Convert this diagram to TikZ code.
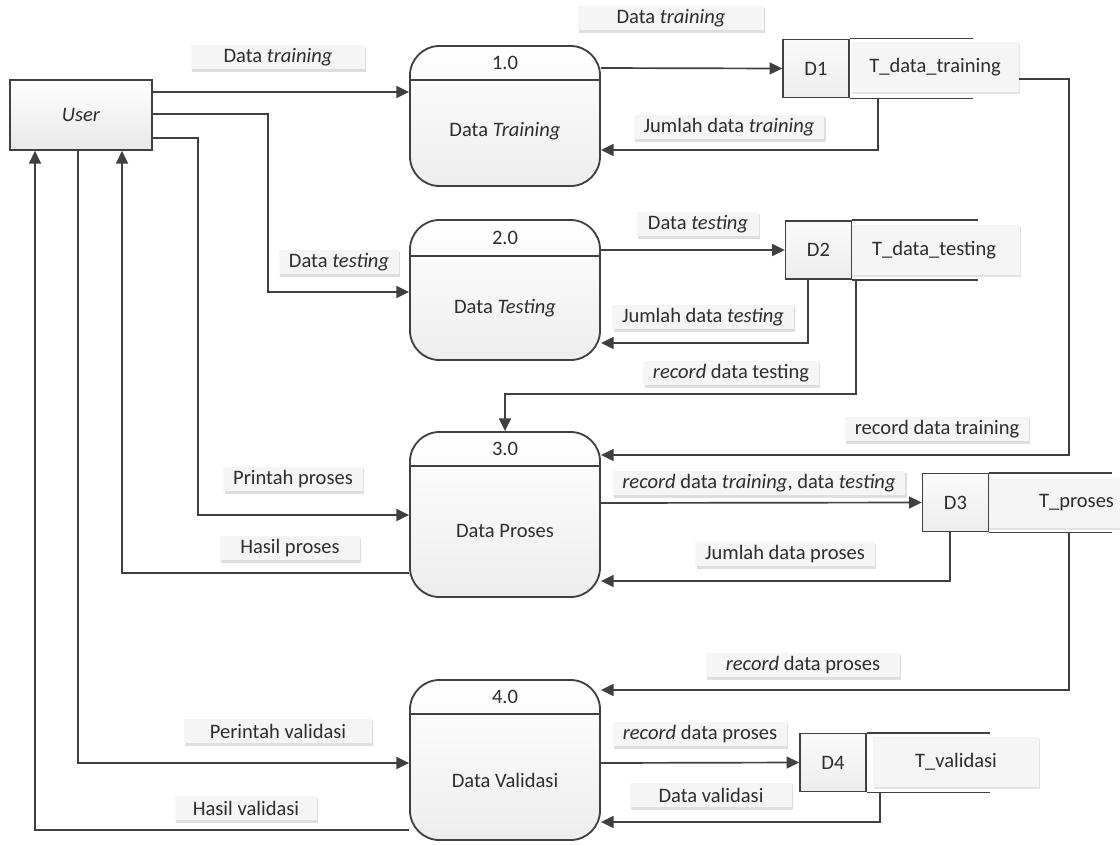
\documentclass[tikz,border=0pt]{standalone}
\usepackage{fontspec}
\setmainfont{Carlito}
\usetikzlibrary{arrows.meta,shadows}

\definecolor{linegray}{RGB}{64,64,64}
\definecolor{textgray}{RGB}{45,45,45}

\tikzset{
  every node/.style={font=\fontsize{14.6pt}{17pt}\selectfont, text=textgray},
  flow/.style={draw=linegray, line width=1.2pt, -{Triangle[length=9pt,width=8.5pt]}},
  proc/.style={draw=linegray, line width=1.3pt, rounded corners=21pt, top color=white, bottom color=black!7, minimum width=4.75cm},
  entity/.style={draw=linegray, line width=1.2pt, top color=white, bottom color=black!9, minimum width=3.55cm, minimum height=1.75cm},
  storeid/.style={draw=linegray, line width=1.1pt, top color=black!2, bottom color=black!7, minimum width=1.65cm, minimum height=1.45cm},
  storename/.style={fill=black!4, drop shadow={fill=black!11, opacity=1, shadow xshift=1pt, shadow yshift=-1.2pt}, minimum height=1.25cm},
  storeline/.style={draw=linegray, line width=1.1pt},
  lbl/.style={fill=black!4, drop shadow={fill=black!13, opacity=1, shadow xshift=1pt, shadow yshift=-1.5pt}, inner xsep=7pt, inner ysep=2pt, minimum height=0.62cm}
}

\begin{document}
\begin{tikzpicture}[x=0.025cm, y=-0.025cm]
\useasboundingbox (0,0) rectangle (1120,844);

\node[entity] (user) at (81,115) {\textit{User}};

\node[proc, minimum height=3.5cm] (p1) at (505,116) {};
\node[proc, minimum height=3.5cm] (p2) at (505,290) {};
\node[proc, minimum height=4.125cm] (p3) at (505,514.5) {};
\node[proc, minimum height=4cm] (p4) at (505,760) {};
\draw[storeline, line width=1.3pt] (p1.west |- 0,80) -- (p1.east |- 0,80);
\draw[storeline, line width=1.3pt] (p2.west |- 0,256) -- (p2.east |- 0,256);
\draw[storeline, line width=1.3pt] (p3.west |- 0,466) -- (p3.east |- 0,466);
\draw[storeline, line width=1.3pt] (p4.west |- 0,714) -- (p4.east |- 0,714);
\node (p1num) at (505,63) {1.0};
\node (p2num) at (505,238) {2.0};
\node (p3num) at (505,449) {3.0};
\node (p4num) at (505,697) {4.0};
\node (p1name) at (505,131) {Data \textit{Training}};
\node (p2name) at (505,308) {Data \textit{Testing}};
\node (p3name) at (505,531) {Data Proses};
\node (p4name) at (505,780) {Data Validasi};

\node[storename, minimum width=4.2cm] (t1) at (935,67) {T\_data\_training};
\node[storename, minimum width=4.3cm] (t2) at (934,250) {T\_data\_testing};
\node[storename, minimum width=3.3cm, align=right, text width=3cm] (t3) at (1054,503) {T\_proses};
\node[storename, minimum width=4.15cm] (t4) at (956,762) {T\_validasi};
\node[storeid] (d1) at (816,68.5) {D1};
\node[storeid] (d2) at (818.5,250) {D2};
\node[storeid] (d3) at (955.5,502.5) {D3};
\node[storeid] (d4) at (833,762.5) {D4};
\draw[storeline] (d1.north east) -- (973,0 |- d1.north);
\draw[storeline] (d1.south east) -- (973,0 |- d1.south);
\draw[storeline] (d2.north east) -- (978,0 |- d2.north);
\draw[storeline] (d2.south east) -- (978,0 |- d2.south);
\draw[storeline] (d3.north east) -- (1112,0 |- d3.north);
\draw[storeline] (d3.south east) -- (1112,0 |- d3.south);
\draw[storeline] (d4.north east) -- (990,0 |- d4.north);
\draw[storeline] (d4.south east) -- (990,0 |- d4.south);

\draw[flow] (user.east |- 0,92) -- (p1.west |- 0,92);
\draw[flow] (user.east |- 0,114) -- (268,114) |- (p2.west |- 0,292);
\draw[flow] (user.east |- 0,138) -- (198,138) |- (p3.west |- 0,515);
\draw[flow] (p3.west |- 0,573) -| (user.south -| 122,0);
\draw[flow] (user.south -| 78,0) |- (p4.west |- 0,763);
\draw[flow] (p4.west |- 0,830) -| (user.south -| 35,0);
\draw[flow] (p1.east |- 0,68) -- (d1.west);
\draw[flow] (d1.south -| 878,0) |- (p1.east |- 0,150);
\draw[flow] (t1.east |- 0,79) -- (1069,79) |- (p3.east |- 0,455);
\draw[flow] (p2.east |- 0,250) -- (d2.west);
\draw[flow] (d2.south -| 808,0) |- (p2.east |- 0,343);
\draw[flow] (d2.south -| 856,0) |- (p3.north |- 0,394) -- (p3.north);
\draw[flow] (p3.east |- 0,503) -- (d3.west);
\draw[flow] (d3.south -| 950,0) |- (p3.east |- 0,581);
\draw[flow] (d3.south -| 1069,0) |- (p4.east |- 0,690);
\draw[flow] (p4.east |- 0,763) -- (d4.west);
\draw[flow] (d4.south -| 880,0) |- (p4.east |- 0,822);

\node[lbl, minimum width=4.35cm] (l1) at (278,57) {Data \textit{training}};
\node[lbl, minimum width=4.65cm] (l2) at (671,18) {Data \textit{training}};
\node[lbl] (l3) at (729,127) {Jumlah data \textit{training}};
\node[lbl, minimum width=3.05cm] (l4) at (698,224) {Data \textit{testing}};
\node[lbl] (l5) at (703,317) {Jumlah data \textit{testing}};
\node[lbl] (l6) at (731,373) {\textit{record} data testing};
\node[lbl] (l7) at (339,262) {Data \textit{testing}};
\node[lbl] (l8) at (937,429) {record data training};
\node[lbl] (l9) at (293,479) {Printah proses};
\node[lbl, minimum width=3.5cm] (l10) at (290,548) {Hasil proses};
\node[lbl] (l11) at (759,483) {\textit{record} data \textit{training}, data \textit{testing}};
\node[lbl, minimum width=4.3cm] (l12) at (785,554) {Jumlah data proses};
\node[lbl, minimum width=4.85cm] (l13) at (803,665) {\textit{record} data proses};
\node[lbl, minimum width=4.7cm] (l14) at (278,731) {Perintah validasi};
\node[lbl, minimum width=3.45cm] (l15) at (700,734) {\textit{record} data proses};
\node[lbl, minimum width=4.05cm] (l16) at (711,795) {Data validasi};
\node[lbl, minimum width=3.55cm] (l17) at (246,808) {Hasil validasi};
\end{tikzpicture}
\end{document}
